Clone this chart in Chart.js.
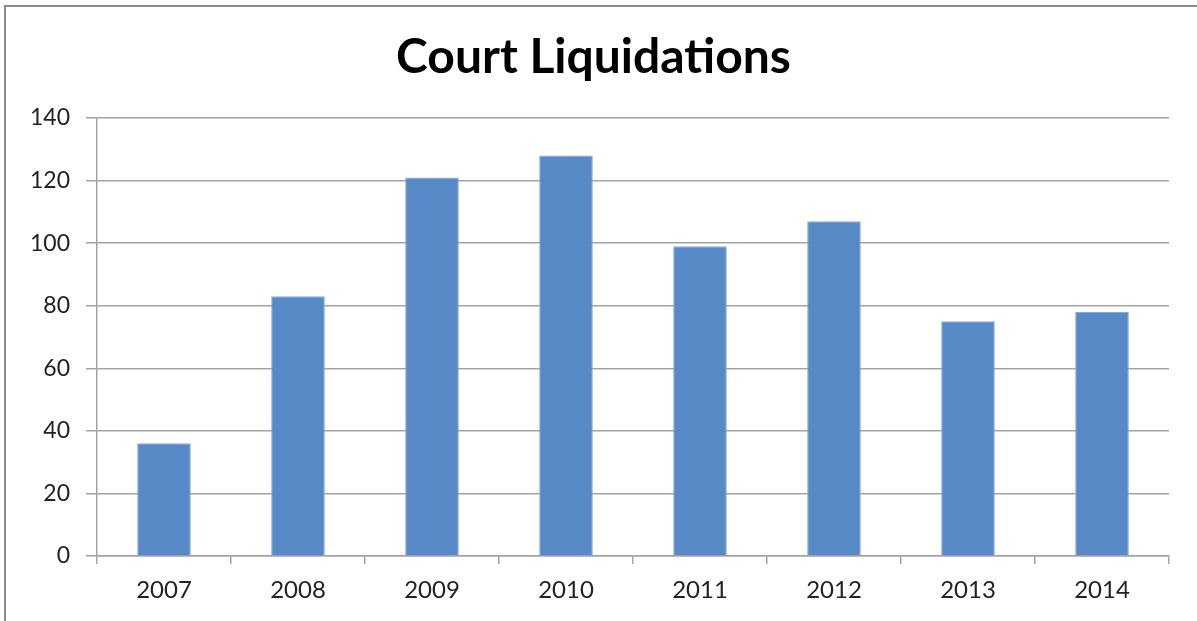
<!DOCTYPE html>
<html>
<head>
<meta charset="utf-8">
<script src="https://cdn.jsdelivr.net/npm/chart.js@4"></script>
<style>
  body { margin: 0; background: #fff; }
  #wrap { position: relative; width: 1197px; height: 621px; }
  #frame { position: absolute; left: 4px; top: 5px; right: 0; bottom: 0; border-left: 2px solid #8c8c8c; border-top: 2px solid #8c8c8c; pointer-events: none; }
</style>
</head>
<body>
<div id="wrap">
  <canvas id="liquidations-chart" width="1197" height="621"></canvas>
  <div id="frame"></div>
</div>
<script>
const years = ["2007", "2008", "2009", "2010", "2011", "2012", "2013", "2014"];
const liquidations = [36, 83, 121, 128, 99, 107, 75, 78];
const yTicks = [0, 20, 40, 60, 80, 100, 120, 140];

const fontFamily = "Lato, 'Open Sans', sans-serif";
const gridColor = "#a3a3a3";

// nudge the title a bit right so it sits over the plot, like the original
const titleShift = {
  id: "titleShift",
  afterLayout(chart) {
    chart.titleBlock.left += 18;
  },
};

new Chart("liquidations-chart", {
  type: "bar",
  data: {
    labels: years,
    datasets: [
      {
        data: liquidations,
        backgroundColor: "#5689c5",
        borderColor: "#86a9d6",
        borderWidth: 1,
        barPercentage: 0.4,
        categoryPercentage: 1,
      },
    ],
  },
  options: {
    responsive: false,
    animation: false,
    layout: {
      padding: { left: 0, right: 28, top: 0, bottom: 5 },
    },
    plugins: {
      legend: { display: false },
      tooltip: { enabled: false },
      title: {
        display: true,
        text: "Court Liquidations",
        color: "#000",
        font: { family: fontFamily, size: 48, weight: "bold", lineHeight: 1.2 },
        padding: { top: 29, bottom: 31.4 },
      },
    },
    scales: {
      x: {
        grid: {
          drawOnChartArea: false,
          drawTicks: true,
          tickLength: 8,
          color: gridColor,
          lineWidth: 1.5,
        },
        border: { color: gridColor, width: 1.5 },
        ticks: {
          color: "#222",
          padding: 11.6,
          font: { family: fontFamily, size: 24, lineHeight: 1.2 },
        },
      },
      y: {
        min: 0,
        max: 140,
        afterFit: (scale) => {
          scale.width = 97;
        },
        afterBuildTicks: (scale) => {
          scale.ticks = yTicks.map((v) => ({ value: v }));
        },
        grid: {
          color: gridColor,
          lineWidth: 1.5,
          tickLength: 11,
        },
        border: { color: gridColor, width: 1.5 },
        ticks: {
          color: "#222",
          padding: 16,
          font: { family: fontFamily, size: 23 },
        },
      },
    },
  },
  plugins: [titleShift],
});
</script>
</body>
</html>
